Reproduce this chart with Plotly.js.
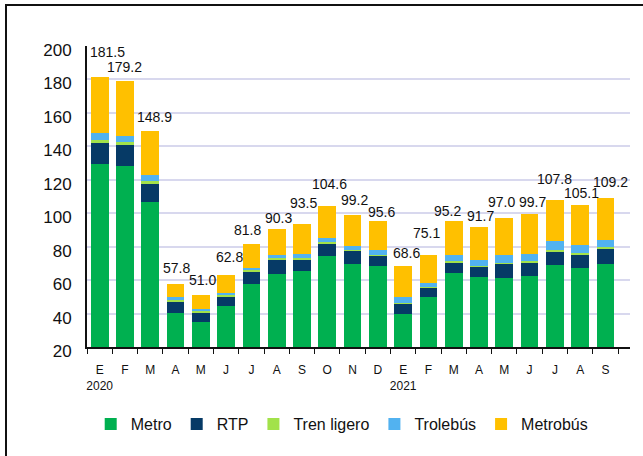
<!DOCTYPE html>
<html>
<head>
<meta charset="utf-8">
<script src="https://cdn.plot.ly/plotly-3.0.1.min.js"></script>
<style>
  html, body { margin: 0; padding: 0; background: #fff; }
  #frame { position: absolute; left: 5px; top: 4px; width: 660px; height: 470px;
           border-left: 2px solid #111; border-top: 2px solid #111; }
  #chart { position: absolute; left: 0; top: 0; width: 643px; height: 456px; }
</style>
</head>
<body>
<div id="chart"></div>
<div id="frame"></div>
<script>
// --- datos (millones de pasajeros) ---
const periodos = ['E20','F20','M20','A20','MY20','J20','JL20','AG20','S20','O20','N20','D20',
                  'E21','F21','M21','A21','MY21','J21','JL21','AG21','S21'];
const meses = ['E','F','M','A','M','J','J','A','S','O','N','D','E','F','M','A','M','J','J','A','S'];
const anios = ['2020','','','','','','','','','','','','2021','','','','','','','',''];

const metro      = [129.7,128.0,106.7,40.3,35.0,44.3,57.5,63.9,65.5,74.2,69.9,68.3,40.0,49.9,64.3,61.9,61.5,62.3,68.9,67.2,69.5];
const rtp        = [12.3,12.6,10.6,6.6,5.3,5.6,7.4,8.4,6.8,7.6,7.3,5.9,6.0,5.4,5.9,5.9,8.0,7.9,7.9,8.0,9.3];
const trenLigero = [1.6,2.0,2.0,1.2,1.0,1.0,1.0,0.9,0.9,1.0,1.0,1.0,0.6,0.6,1.1,0.9,0.7,1.1,1.0,1.0,1.0];
const trolebus   = [4.4,3.6,3.4,1.8,1.2,1.6,1.4,1.6,2.2,2.6,2.2,2.6,3.3,2.4,3.5,3.1,4.6,4.6,5.6,4.6,4.0];
const metrobus   = [33.5,33.0,26.2,7.9,8.5,10.3,14.5,15.5,18.1,19.2,18.8,17.8,18.7,16.8,20.4,19.9,22.2,23.8,24.4,24.3,25.4];
const totales    = [181.5,179.2,148.9,57.8,51.0,62.8,81.8,90.3,93.5,104.6,99.2,95.6,68.6,75.1,95.2,91.7,97.0,99.7,107.8,105.1,109.2];

// ajuste manual de las etiquetas de total (px), como en el original
const etqDx = [8,0,4,1,2,3,-4,2,2,2,2,4,3,-2,-6,1,-3,3,0,1,5];
const etqDy = [25,14,14,16,15,18,14,11,21,22,15,9,13,22,10,11,16,12,21,12,16];

const series = [
    { name: 'Metro',       y: metro,      color: '#00b050' },
    { name: 'RTP',         y: rtp,        color: '#063a66' },
    { name: 'Tren ligero', y: trenLigero, color: '#a2e24a' },
    { name: 'Trolebús',    y: trolebus,   color: '#52b2f0' },
    { name: 'Metrobús',    y: metrobus,   color: '#ffc000' }
];

const FONT = 'Liberation Sans, Arial, sans-serif';

const traces = series.map(s => ({
    type: 'bar',
    name: s.name,
    x: periodos,
    y: s.y,
    marker: { color: s.color, line: { width: 0 } },
    hoverinfo: 'name+y'
}));

// etiquetas de total encima de cada barra
const etiquetas = periodos.map((p, i) => ({
    x: p,
    y: totales[i],
    text: totales[i].toFixed(1),
    showarrow: false,
    yanchor: 'middle',
    xshift: etqDx[i],
    yshift: etqDy[i],
    font: { family: FONT, size: 14, color: '#111' }
}));

const ticktext = meses.map((m, i) => anios[i] ? m + '<br>' + anios[i] : m);

const layout = {
    width: 643,
    height: 456,
    margin: { l: 87, r: 13, t: 46, b: 109 },
    barmode: 'stack',
    bargap: 0.3,
    paper_bgcolor: '#fff',
    plot_bgcolor: '#fff',
    font: { family: FONT, color: '#111' },
    showlegend: true,
    legend: {
        orientation: 'h',
        x: 0.47, xanchor: 'center',
        y: -0.2, yanchor: 'top',
        traceorder: 'normal',
        itemwidth: 30,
        font: { family: FONT, size: 16, color: '#111' }
    },
    xaxis: {
        type: 'category',
        tickvals: periodos,
        ticktext: ticktext,
        tickangle: 0,
        tickson: 'boundaries',
        ticks: 'outside',
        ticklen: 5,
        tickcolor: '#111',
        ticklabelstandoff: 11,
        showline: true,
        linecolor: '#111',
        linewidth: 2,
        showgrid: false,
        tickfont: { family: FONT, size: 12, color: '#111' },
        fixedrange: true
    },
    yaxis: {
        range: [20, 200],
        dtick: 20,
        showline: true,
        linecolor: '#111',
        linewidth: 2,
        showgrid: true,
        gridcolor: '#d8d8ee',
        gridwidth: 2,
        zeroline: false,
        ticks: '',
        ticklabelstandoff: 10,
        ticklabelshift: 4,
        tickfont: { family: FONT, size: 17, color: '#111' },
        fixedrange: true
    },
    annotations: etiquetas
};

Plotly.newPlot('chart', traces, layout, { displayModeBar: false, staticPlot: true });
</script>
</body>
</html>
